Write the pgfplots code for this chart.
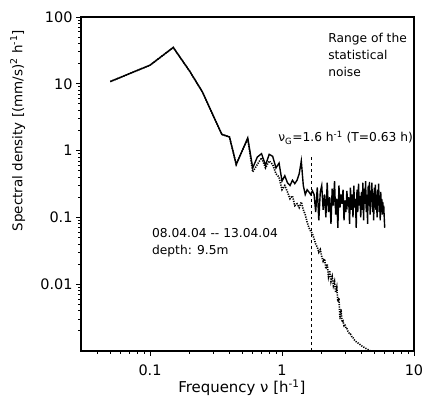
\documentclass[border=0pt]{standalone}
\usepackage{fontspec}
\setmainfont{DejaVu Sans}
\usepackage{pgfplots}
\usepackage{pgfplotstable}
\pgfplotsset{compat=1.18}

% Raw spectrum (df = 0.05 1/h)
\pgfplotstableread{
f    S
0.05 10.8
0.10 19
0.15 35
0.20 15.4
0.25 7.5
0.30 3.4
0.35 1.75
0.40 1.6
0.45 0.62
0.50 1.0
0.55 1.55
0.60 0.55
0.65 0.80
0.70 0.90
0.75 0.60
0.80 0.88
0.85 0.82
0.90 0.55
0.95 0.65
1.00 0.35
1.05 0.42
1.10 0.33
1.15 0.30
1.20 0.36
1.25 0.32
1.30 0.36
1.35 0.45
1.40 0.70
1.45 0.30
1.50 0.22
1.55 0.26
1.60 0.24
1.65 0.22
1.70 0.25
1.75 0.22
1.80 0.12
1.85 0.28
1.90 0.09
1.95 0.24
2.00 0.30
2.05 0.13
2.10 0.22
2.15 0.10
2.20 0.33
2.25 0.12
2.30 0.20
2.35 0.08
2.40 0.27
2.45 0.15
2.50 0.35
2.55 0.11
2.60 0.19
2.65 0.07
2.70 0.30
2.75 0.14
2.80 0.22
2.85 0.16
2.90 0.26
2.95 0.09
3.00 0.18
3.05 0.12
3.10 0.25
3.15 0.16
3.20 0.20
3.25 0.08
3.30 0.28
3.35 0.13
3.40 0.22
3.45 0.10
3.50 0.30
3.55 0.14
3.60 0.19
3.65 0.07
3.70 0.26
3.75 0.12
3.80 0.32
3.85 0.15
3.90 0.21
3.95 0.10
4.00 0.24
4.05 0.13
4.10 0.33
4.15 0.09
4.20 0.27
4.25 0.16
4.30 0.35
4.35 0.12
4.40 0.22
4.45 0.08
4.50 0.30
4.55 0.15
4.60 0.34
4.65 0.11
4.70 0.25
4.75 0.17
4.80 0.33
4.85 0.12
4.90 0.23
4.95 0.09
5.00 0.28
5.05 0.14
5.10 0.31
5.15 0.13
5.20 0.22
5.25 0.10
5.30 0.26
5.35 0.15
5.40 0.32
5.45 0.12
5.50 0.20
5.55 0.09
5.60 0.24
5.65 0.13
5.70 0.19
5.75 0.11
5.80 0.17
5.85 0.12
5.90 0.15
5.95 0.10
6.00 0.07
}\rawspec

% Filtered spectrum
\pgfplotstableread{
f    S
0.05 10.8
0.10 19
0.15 35
0.20 15.4
0.25 7.5
0.30 3.4
0.35 1.75
0.40 1.6
0.45 0.62
0.50 1.0
0.55 1.5
0.60 0.48
0.65 0.62
0.70 0.78
0.75 0.55
0.80 0.70
0.85 0.62
0.90 0.45
0.95 0.40
1.00 0.26
1.05 0.30
1.10 0.24
1.15 0.19
1.20 0.21
1.25 0.15
1.30 0.16
1.35 0.14
1.40 0.17
1.45 0.13
1.50 0.11
1.55 0.085
1.60 0.070
1.65 0.062
1.70 0.057
1.75 0.048
1.80 0.040
1.85 0.036
1.90 0.030
1.95 0.033
2.00 0.026
2.05 0.022
2.10 0.024
2.15 0.017
2.20 0.020
2.25 0.013
2.30 0.016
2.35 0.011
2.40 0.013
2.45 0.0095
2.50 0.011
2.55 0.0075
2.60 0.0090
2.65 0.0055
2.70 0.0062
2.75 0.0030
2.80 0.0042
2.85 0.0027
2.90 0.0028
2.95 0.0024
3.00 0.0025
3.05 0.0022
3.10 0.0022
3.15 0.0020
3.20 0.0019
3.25 0.0018
3.30 0.0018
3.35 0.0017
3.40 0.0016
3.45 0.0016
3.50 0.0015
3.60 0.0014
3.70 0.00135
3.80 0.0013
3.90 0.00125
4.00 0.0012
4.20 0.00113
4.40 0.00107
4.60 0.00102
4.80 0.00099
5.00 0.00095
}\filtspec

\begin{document}
\begin{tikzpicture}
\begin{loglogaxis}[
  scale only axis, width=333bp, height=334bp,
  xmin=0.03, xmax=10, ymin=0.001, ymax=100,
  xtick={0.1,1,10}, xticklabels={0.1,1,10},
  ytick={0.01,0.1,1,10,100}, yticklabels={0.01,0.1,1,10,100},
  minor xtick={0.04,0.05,0.06,0.07,0.08,0.09,0.2,0.3,0.4,0.5,0.6,0.7,0.8,0.9,2,3,4,5,6,7,8,9},
  minor ytick={0.002,0.003,0.004,0.005,0.006,0.007,0.008,0.009,
               0.02,0.03,0.04,0.05,0.06,0.07,0.08,0.09,
               0.2,0.3,0.4,0.5,0.6,0.7,0.8,0.9,
               2,3,4,5,6,7,8,9,20,30,40,50,60,70,80,90},
  xtick pos=bottom, ytick pos=left, tick align=outside,
  major tick length=5bp, minor tick length=3bp,
  ticklabel style={font=\fontsize{14.5}{16}\selectfont},
  xticklabel style={yshift=-5bp},
  axis line style={line width=1.2pt},
  every tick/.style={black, line width=0.9pt},
  xlabel={Frequency ν [h\textsuperscript{-1}]},
  ylabel={Spectral density [(mm/s)\textsuperscript{2} h\textsuperscript{-1}]},
  xlabel style={font=\fontsize{15}{17}\selectfont, at={(axis description cs:0.483,-0.111)}, anchor=center},
  ylabel style={font=\fontsize{13.5}{16}\selectfont, at={(axis description cs:-0.19,0.66)}, anchor=center},
]
\addplot[black, line width=1.6pt, dash pattern=on 1.2pt off 1.2pt] table[x=f, y=S] {\filtspec};
\addplot[black, line width=1.4pt] table[x=f, y=S] {\rawspec};
\addplot[black, line width=0.9pt, dashed] coordinates {(1.67,0.001) (1.67,0.85)};

\node[anchor=north west, align=left, inner sep=0pt, font=\fontsize{12.3}{17}\selectfont]
  at (rel axis cs:0.742,0.951) {Range of the\\statistical\\noise};
\node[anchor=base west, inner sep=0pt, font=\fontsize{12.3}{17}\selectfont]
  at (rel axis cs:0.592,0.626) {ν\textsubscript{G}=1.6 h\textsuperscript{-1} (T=0.63 h)};
\node[anchor=north west, align=left, inner sep=0pt, font=\fontsize{12.3}{17}\selectfont]
  at (rel axis cs:0.213,0.368) {08.04.04 -{}- 13.04.04\\depth: 9.5m};
\end{loglogaxis}
\path (current axis.south west) ++(-81bp,-50bp) coordinate (bl);
\path (current axis.north east) ++(8bp,17bp) coordinate (tr);
\pgfresetboundingbox
\useasboundingbox (bl) rectangle (tr);
\end{tikzpicture}
\end{document}
